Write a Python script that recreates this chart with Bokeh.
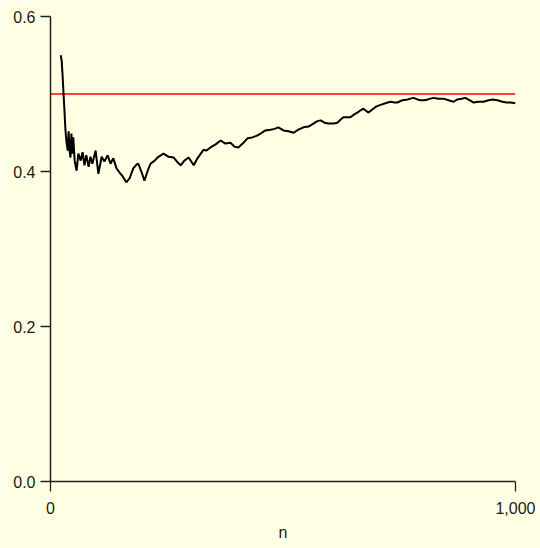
from bokeh.plotting import figure
from bokeh.models import FixedTicker, NumeralTickFormatter, Range1d
from bokeh.embed import file_html
from bokeh.resources import INLINE

# Running proportion of heads
n = [22, 24, 26, 28, 30, 32, 34, 37, 39, 41, 43, 45, 47, 49, 52, 56, 60, 65, 69, 73,
     77, 82, 86, 90, 97, 103, 110, 116, 123, 129, 135, 142, 148, 155, 163, 170, 178, 185, 189, 196,
     202, 209, 215, 224, 232, 243, 254, 265, 273, 280, 288, 297, 308, 316, 329, 335, 344, 355, 366, 376,
     387, 396, 404, 415, 424, 434, 443, 452, 462, 473, 482, 490, 501, 512, 523, 533, 544, 555, 566, 574,
     581, 589, 598, 609, 617, 624, 630, 639, 645, 654, 660, 667, 673, 677, 684, 692, 701, 710, 720, 731,
     740, 746, 757, 768, 774, 781, 789, 796, 804, 811, 817, 824, 834, 845, 856, 867, 875, 884, 892, 901,
     910, 920, 931, 942, 951, 961, 972, 981, 989, 1000]
proportion = [0.550, 0.543, 0.524, 0.501, 0.479, 0.455, 0.440, 0.427, 0.452, 0.427, 0.418, 0.449, 0.423, 0.444, 0.414, 0.401, 0.423, 0.414, 0.425, 0.408,
              0.421, 0.406, 0.419, 0.410, 0.427, 0.397, 0.419, 0.413, 0.421, 0.410, 0.417, 0.404, 0.399, 0.394, 0.386, 0.391, 0.404, 0.409, 0.410, 0.399,
              0.388, 0.401, 0.410, 0.414, 0.419, 0.423, 0.419, 0.418, 0.412, 0.408, 0.414, 0.418, 0.408, 0.417, 0.428, 0.427, 0.431, 0.435, 0.440, 0.436,
              0.437, 0.432, 0.431, 0.437, 0.443, 0.444, 0.446, 0.449, 0.453, 0.454, 0.455, 0.457, 0.453, 0.452, 0.450, 0.454, 0.457, 0.458, 0.462, 0.465,
              0.466, 0.463, 0.462, 0.462, 0.463, 0.467, 0.470, 0.470, 0.470, 0.474, 0.476, 0.479, 0.481, 0.479, 0.476, 0.480, 0.484, 0.486, 0.488, 0.490,
              0.489, 0.489, 0.492, 0.493, 0.494, 0.495, 0.493, 0.492, 0.492, 0.493, 0.494, 0.495, 0.494, 0.494, 0.492, 0.490, 0.493, 0.494, 0.495, 0.492,
              0.489, 0.490, 0.490, 0.492, 0.493, 0.492, 0.490, 0.489, 0.489, 0.488]

# Expected probability line
ref_n = [0, 1000]
ref_p = [0.5, 0.5]

x_ticks = [0, 1000]
y_ticks = [0.0, 0.2, 0.4, 0.6]

BG = "#ffffe3"
FONT = "Liberation Sans"

p = figure(width=540, height=548, output_backend="svg", toolbar_location=None,
           x_range=Range1d(0, 1000), y_range=Range1d(0, 0.6),
           min_border_left=50, min_border_right=25, min_border_top=16, min_border_bottom=67)
p.frame_width = 465
p.frame_height = 465
p.background_fill_color = BG
p.border_fill_color = BG
p.outline_line_color = None
p.grid.visible = False

p.line(ref_n, ref_p, line_color="#ff0000", line_width=1.5)
p.line(n, proportion, line_color="black", line_width=2)

for ax in (p.xaxis[0], p.yaxis[0]):
    ax.axis_line_color = "#222222"
    ax.axis_line_width = 1.5
    ax.major_tick_line_color = "#222222"
    ax.major_tick_line_width = 1.3
    ax.major_tick_out = 10
    ax.major_tick_in = 0
    ax.minor_tick_line_color = None
    ax.major_label_text_font = FONT
    ax.major_label_text_font_size = "16px"
    ax.major_label_text_color = "#1a1a1a"

p.xaxis[0].major_label_standoff = 10
p.yaxis[0].major_label_standoff = 5

p.xaxis[0].ticker = FixedTicker(ticks=x_ticks)
p.xaxis[0].formatter = NumeralTickFormatter(format="0,0")
p.xaxis[0].axis_label = "n"
p.xaxis[0].axis_label_text_font = FONT
p.xaxis[0].axis_label_text_font_size = "16px"
p.xaxis[0].axis_label_text_font_style = "normal"
p.xaxis[0].axis_label_text_color = "#1a1a1a"
p.xaxis[0].axis_label_standoff = 7

p.yaxis[0].ticker = FixedTicker(ticks=y_ticks)
p.yaxis[0].formatter = NumeralTickFormatter(format="0.0")

html = file_html(p, INLINE)
html = html.replace("<body>", '<body style="background-color: %s;">' % BG, 1)
open("out.html", "w").write(html)
